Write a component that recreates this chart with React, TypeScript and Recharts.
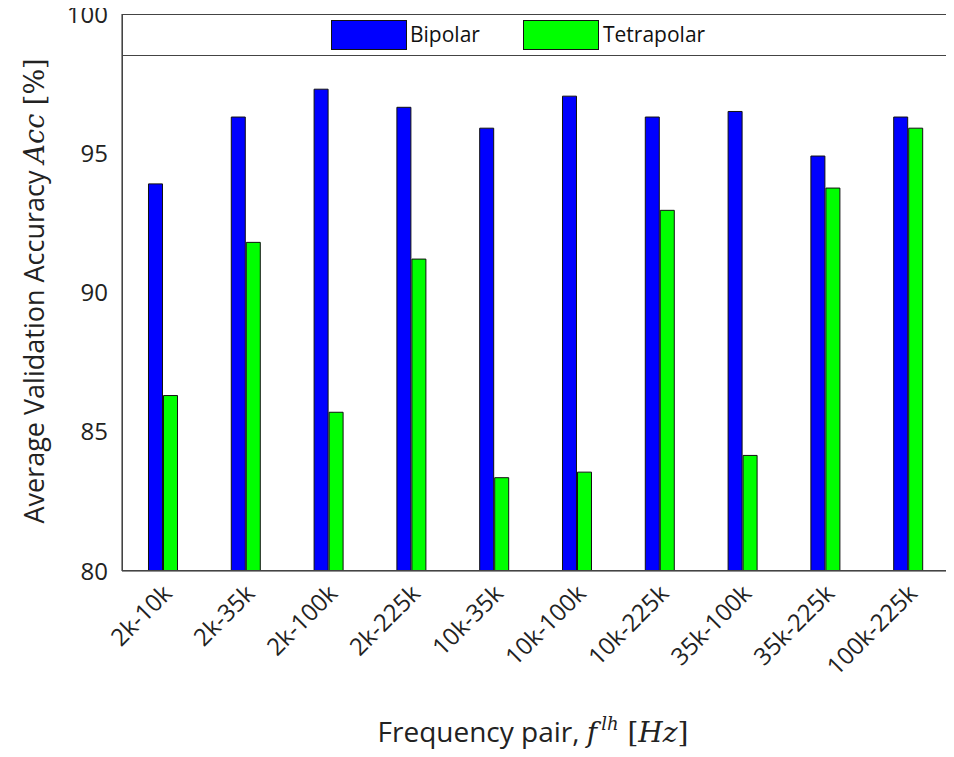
import React from "react";
import { BarChart, Bar, XAxis, YAxis } from "recharts";

const pairs = ["2k-10k", "2k-35k", "2k-100k", "2k-225k", "10k-35k", "10k-100k", "10k-225k", "35k-100k", "35k-225k", "100k-225k"];
const bipolar = [93.9, 96.3, 97.3, 96.65, 95.9, 97.05, 96.3, 96.5, 94.9, 96.3];
const tetrapolar = [86.3, 91.8, 85.7, 91.2, 83.35, 83.55, 92.95, 84.15, 93.75, 95.9];
const yTicks = [80, 85, 90, 95, 100];

const data = pairs.map((p, i) => ({ pair: p, bipolar: bipolar[i], tetrapolar: tetrapolar[i] }));

const font = "'Open Sans', sans-serif";

function XTick(props: any) {
  const { x, y, payload } = props;
  return (
    <text x={x + 10} y={y + 16} transform={`rotate(-45 ${x + 10} ${y + 16})`} textAnchor="end"
      fontSize={24} fill="#222" fontFamily={font}>
      {payload.value}
    </text>
  );
}

export default function App() {
  return (
    <div style={{ position: "relative", margin: -8, width: 954, height: 757, background: "#fff" }}>
      <BarChart width={954} height={757} data={data} margin={{ top: 14, right: 4, left: 0, bottom: 0 }}
        barCategoryGap="32%" barGap={1}>
        <XAxis dataKey="pair" height={186} tick={<XTick />} tickLine={false} stroke="#222"
          label={{ content: () => (
            <text x={533} y={742} textAnchor="middle" fontSize={28} fill="#222" fontFamily={font}>
              Frequency pair, <tspan fontFamily="'DejaVu Serif', serif" fontStyle="italic">f</tspan>
              <tspan fontFamily="'DejaVu Serif', serif" fontStyle="italic" fontSize={18} dx={4} dy={-12}>lh</tspan>
              <tspan dy={12} fontFamily="'DejaVu Serif', serif"> [</tspan>
              <tspan fontFamily="'DejaVu Serif', serif" fontStyle="italic">Hz</tspan>
              <tspan fontFamily="'DejaVu Serif', serif">]</tspan>
            </text>
          ) }} />
        <YAxis width={122} domain={[80, 100]} ticks={yTicks} allowDataOverflow stroke="#222"
          tick={{ fontSize: 24, fill: "#222", fontFamily: font }} tickLine={false} tickMargin={8}
          label={{ content: () => (
            <text x={44} y={291} transform="rotate(-90 44 291)" textAnchor="middle" fontSize={27} fill="#222" fontFamily={font}>
              Average Validation Accuracy  <tspan fontFamily="'DejaVu Serif', serif" fontStyle="italic">Acc</tspan>
              <tspan fontFamily="'DejaVu Serif', serif"> [%]</tspan>
            </text>
          ) }} />
        <Bar dataKey="bipolar" fill="#0000ff" stroke="#111" strokeWidth={1} isAnimationActive={false} />
        <Bar dataKey="tetrapolar" fill="#00ff00" stroke="#111" strokeWidth={1} isAnimationActive={false} />
      </BarChart>
      <div style={{ position: "absolute", left: 122, top: 14, width: 827, height: 557, border: "1px solid #444",
        boxSizing: "border-box", pointerEvents: "none" }} />
      <div style={{ position: "absolute", left: 122, top: 14, width: 827, height: 42, border: "1px solid #444",
        boxSizing: "border-box", background: "#fff", fontFamily: font, fontSize: 21, color: "#111" }}>
        <div style={{ position: "absolute", left: 208, top: 5, width: 74, height: 28, background: "#0000ff", border: "1px solid #111" }} />
        <div style={{ position: "absolute", left: 287, top: 5 }}>Bipolar</div>
        <div style={{ position: "absolute", left: 400, top: 5, width: 74, height: 28, background: "#00ff00", border: "1px solid #111" }} />
        <div style={{ position: "absolute", left: 480, top: 5 }}>Tetrapolar</div>
      </div>
    </div>
  );
}
